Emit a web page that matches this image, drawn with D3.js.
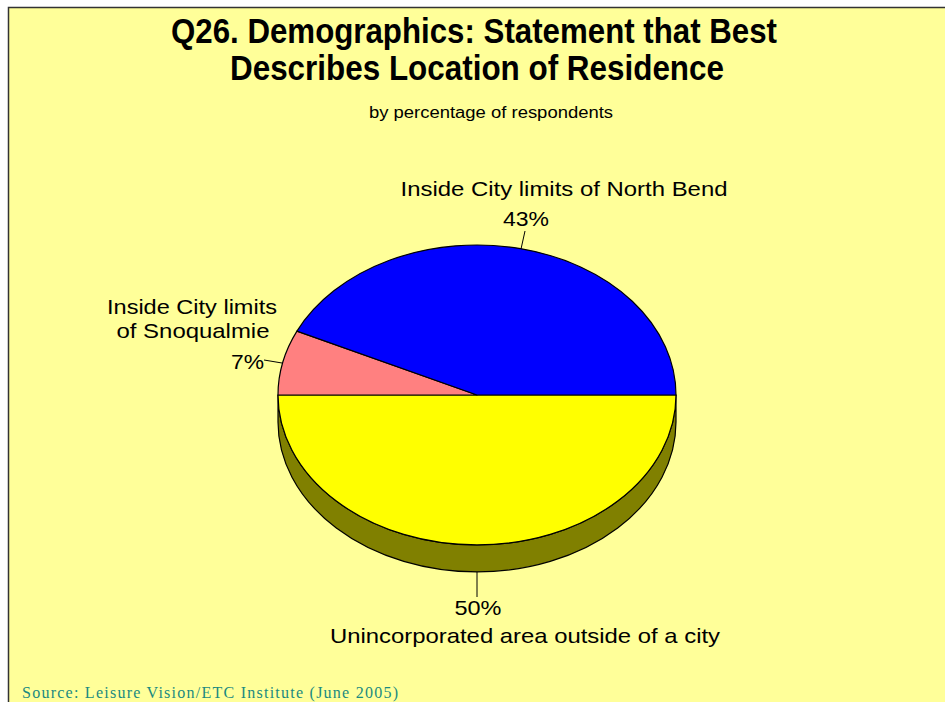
<!DOCTYPE html>
<html><head><meta charset="utf-8">
<script src="https://cdn.jsdelivr.net/npm/d3@7"></script>
<style>html,body{margin:0;padding:0;background:#fff;}svg{display:block;}</style>
</head><body>
<svg id="c" width="945" height="702"></svg>
<script>
// Data
const categories = ["Unincorporated area outside of a city", "Inside City limits of Snoqualmie", "Inside City limits of North Bend"];
const values = [50, 7, 43];
const valueLabels = ["50%", "7%", "43%"];
const titleLines = ["Q26. Demographics: Statement that Best", "Describes Location of Residence"];
const subtitle = "by percentage of respondents";
const source = "Source:  Leisure Vision/ETC Institute (June 2005)";

const colors = ["#FFFF00", "#FF8080", "#0000FF"];
const sideColors = ["#808000", "#804040", "#000080"];

const svg = d3.select("#c");
svg.append("rect").attr("x", 8.5).attr("y", 7.5).attr("width", 945).attr("height", 710)
  .attr("fill", "#FFFF99").attr("stroke", "#333").attr("stroke-width", 1.5);

// Titles
const tl = [{x:474, y:43, len:606}, {x:477, y:80, len:494}];
titleLines.forEach((t,i)=>{
  svg.append("text").attr("x", tl[i].x).attr("y", tl[i].y).attr("text-anchor","middle")
    .attr("font-family","Liberation Sans, Arial, sans-serif").attr("font-weight","bold")
    .attr("font-size", 35).attr("textLength", tl[i].len).attr("lengthAdjust","spacingAndGlyphs")
    .attr("fill","#000").text(t);
});
svg.append("text").attr("x", 491).attr("y", 118).attr("text-anchor","middle")
  .attr("font-family","Liberation Sans, Arial, sans-serif").attr("font-size", 16)
  .attr("textLength", 244).attr("lengthAdjust","spacingAndGlyphs").text(subtitle);

// Pie geometry
const cx = 477, cy = 395, rx = 199, ry = 150, depth = 27;
const pie = d3.pie().sort(null).value(d=>d).startAngle(Math.PI/2).endAngle(Math.PI/2 + 2*Math.PI);
const arcs = pie(values);
const pt = (a, dy=0) => [cx + rx*Math.sin(a), cy - ry*Math.cos(a) + dy];

function topPath(d){
  const p0 = pt(d.startAngle), p1 = pt(d.endAngle);
  const large = (d.endAngle - d.startAngle) > Math.PI ? 1 : 0;
  return `M${cx},${cy}L${p0[0]},${p0[1]}A${rx},${ry} 0 ${large} 1 ${p1[0]},${p1[1]}Z`;
}
function sidePath(a0, a1){
  const p0 = pt(a0), p1 = pt(a1), q1 = pt(a1, depth), q0 = pt(a0, depth);
  return `M${p0[0]},${p0[1]}A${rx},${ry} 0 0 1 ${p1[0]},${p1[1]}L${q1[0]},${q1[1]}A${rx},${ry} 0 0 0 ${q0[0]},${q0[1]}Z`;
}
// side walls (front half only: d3 angles PI/2 .. 3PI/2)
arcs.forEach((d,i)=>{
  const a0 = Math.max(d.startAngle, Math.PI/2), a1 = Math.min(d.endAngle, 3*Math.PI/2);
  if (a1 > a0) svg.append("path").attr("d", sidePath(a0,a1)).attr("fill", sideColors[i])
    .attr("stroke","#000").attr("stroke-width",1.2).attr("stroke-linejoin","round");
});
arcs.forEach((d,i)=>{
  svg.append("path").attr("d", topPath(d)).attr("fill", colors[i])
    .attr("stroke","#000").attr("stroke-width",1.2).attr("stroke-linejoin","round");
});

// Labels
const lf = "Liberation Sans, Arial, sans-serif";
function txt(x,y,s,len,anchor){
  const t = svg.append("text").attr("x",x).attr("y",y).attr("text-anchor",anchor||"middle")
    .attr("font-family",lf).attr("font-size",21).attr("fill","#000").text(s);
  if(len) t.attr("textLength",len).attr("lengthAdjust","spacingAndGlyphs");
  return t;
}
function line(x1,y1,x2,y2){
  svg.append("line").attr("x1",x1).attr("y1",y1).attr("x2",x2).attr("y2",y2)
    .attr("stroke","#000").attr("stroke-width",1);
}
// North Bend (index 2)
txt(564, 196, categories[2], 327);
txt(526, 226, valueLabels[2], 46);
line(525, 231, 521, 249);
// Snoqualmie (index 1)
txt(192, 314, "Inside City limits", 170);
txt(193, 338, "of Snoqualmie", 153);
txt(264, 369, valueLabels[1], 33, "end");
line(264, 360, 282, 363);
// Unincorporated (index 0)
txt(478, 615, valueLabels[0], 47);
txt(525, 643, categories[0], 390);
line(477, pt(Math.PI, depth)[1], 477, 597);

svg.append("text").attr("x",22).attr("y",698).attr("font-family","Liberation Serif, Times New Roman, serif")
  .attr("font-size",16).attr("fill","#1A8A80").attr("textLength",376).attr("lengthAdjust","spacing").text(source);
</script>
</body></html>
